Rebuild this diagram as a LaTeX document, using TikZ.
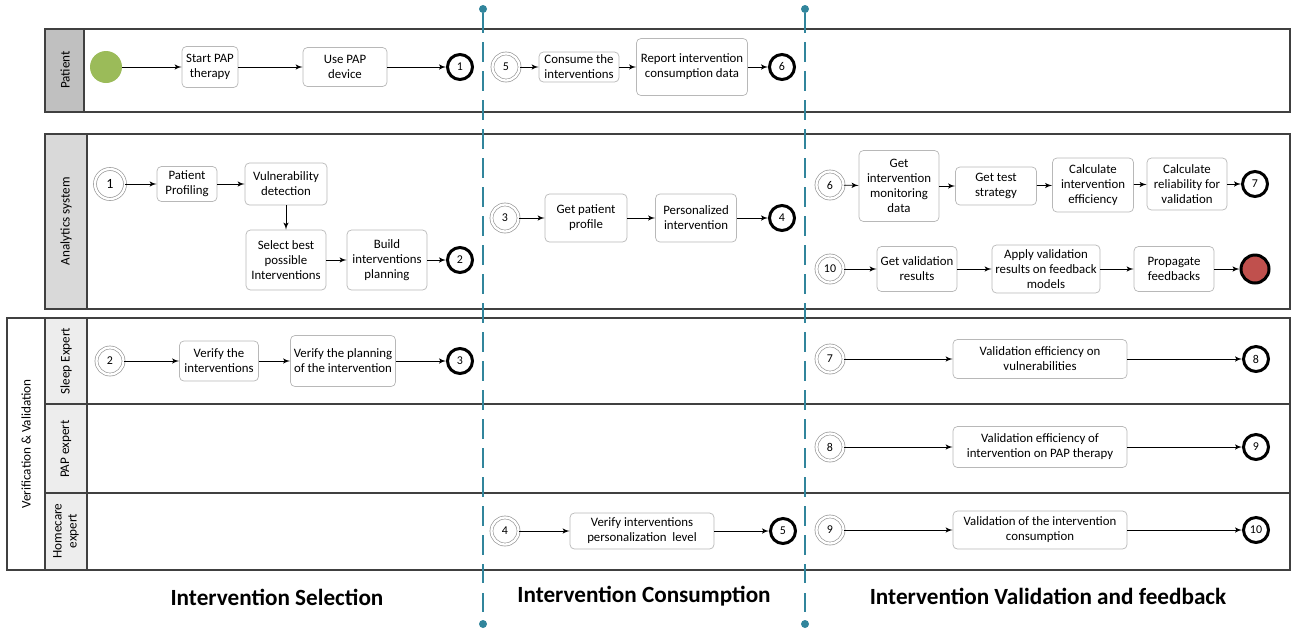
\documentclass[tikz,border=0pt]{standalone}
\usepackage{fontspec}
\setmainfont{Carlito}
\usetikzlibrary{arrows,positioning}
\definecolor{startgreen}{HTML}{9BBB59}
\definecolor{endred}{HTML}{C0504D}
\definecolor{phaseteal}{HTML}{31859C}
\definecolor{patgray}{HTML}{C0C0C0}
\definecolor{anagray}{HTML}{D9D9D9}
\definecolor{lanegray}{HTML}{EDEDED}
\tikzset{task/.style={rectangle,rounded corners=2.5pt,draw=black!28,fill=white,align=center,inner sep=1pt,font=\fontsize{7.3}{8.6}\selectfont},
         box size/.style 2 args={minimum width=#1*0.02cm,minimum height=#2*0.02cm},
         start event/.style={circle,fill=startgreen,draw=none,minimum size=0.64cm,inner sep=0pt},
         catch event/.style={circle,draw=black!40,double=white,double distance=1.3pt,fill=white,minimum size=0.54cm,inner sep=0pt,font=\fontsize{6.8}{8}\selectfont},
         end event/.style={circle,draw=black,line width=1.7pt,fill=white,minimum size=0.5cm,inner sep=0pt,font=\fontsize{6.8}{8}\selectfont},
         pool/.style={draw=black!75,line width=0.7pt},
         lane label/.style={rotate=90,align=center,font=\fontsize{7.5}{8.6}\selectfont},
         phase label/.style={font=\fontsize{13.2}{16}\selectfont\bfseries},
         phase dot/.style={circle,fill=phaseteal,minimum size=0.16cm,inner sep=0pt},
         phase line/.style={phaseteal,line width=1.4pt,dash pattern=on 11pt off 5.5pt},
}
\begin{document}
\begin{tikzpicture}[x=0.02cm,y=-0.02cm,->,>=latex',thin]

% \draw[help lines] (0,0) grid (1294,630);
\useasboundingbox (0,0) rectangle (1294,630);

% pools and lanes
\begin{scope}[-]
\draw[pool] (45,29) rectangle (1290,112);
\filldraw[pool,fill=patgray] (45,29) rectangle (84,112);
\draw[pool] (45,134) rectangle (1290,309);
\filldraw[pool,fill=anagray] (45,134) rectangle (87,309);
\draw[pool] (7,318) rectangle (1290,570);
\filldraw[pool,fill=lanegray] (45,318) rectangle (87,404);
\filldraw[pool,fill=lanegray] (45,404) rectangle (87,493);
\filldraw[pool,fill=lanegray] (45,493) rectangle (87,570);
\draw[pool] (45,318) -- (45,570);
\draw[pool] (87,404) -- (1290,404);
\draw[pool] (87,493) -- (1290,493);
\end{scope}

\node[lane label] (lpat) at (65,70) {Patient};
\node[lane label] (lana) at (66,221) {Analytics system};
\node[lane label] (lvv) at (26,444) {Verification \& Validation};
\node[lane label] (lsle) at (66,361) {Sleep Expert};
\node[lane label] (lpap) at (66,449) {PAP expert};
\node[lane label] (lhom) at (66,531) {Homecare\\expert};

% phases
\node[phase dot] (d1t) at (483,9) {};
\node[phase dot] (d1b) at (483,624) {};
\node[phase dot] (d2t) at (805,9) {};
\node[phase dot] (d2b) at (805,624) {};
\draw[phase line,-] (d1t) -- (d1b);
\draw[phase line,-] (d2t) -- (d2b);

\node[phase label] (ph1) at (277,597) {Intervention Selection};
\node[phase label] (ph2) at (644,596) {Intervention Consumption};
\node[phase label] (ph3) at (1048,596) {Intervention Validation and feedback};

% Patient
\node[start event] (p0) at (106,67) {};
\node[task,box size={56}{41}] (p1) at (210,67) {Start PAP\\therapy};
\node[task,box size={84}{39}] (p2) at (345,67) {Use PAP\\device};
\node[end event] (pe1) at (460,67) {1};
\node[catch event] (pc5) at (506,67) {5};
\node[task,box size={80}{30}] (p3) at (579,67) {Consume the\\interventions};
\node[task,box size={111}{57}] (p4) at (692,67) {Report intervention\\consumption data};
\node[end event] (pe6) at (782,67) {6};

\draw (p0) -- (p1);
\draw (p1) -- (p2);
\draw (p2) -- (pe1);
\draw (pc5) -- (p3);
\draw (p3) -- (p4);
\draw (p4) -- (pe6);

% Analytics system
\node[catch event,minimum size=0.6cm,font=\fontsize{8}{9}\selectfont] (ac1) at (110,184) {1};
\node[task,box size={60}{35}] (a1) at (187,184) {Patient\\Profiling};
\node[task,box size={82}{42}] (a2) at (286,184) {Vulnerability\\detection};
\node[task,box size={80}{60}] (a3) at (286,260) {Select best\\possible\\Interventions};
\node[task,box size={80}{60}] (a4) at (387,260) {Build\\interventions\\planning};
\node[end event] (ae2) at (460,260) {2};

\node[catch event] (ac3) at (505,218) {3};
\node[task,box size={82}{48}] (a5) at (586,218) {Get patient\\profile};
\node[task,box size={81}{48}] (a6) at (696,218) {Personalized\\intervention};
\node[end event] (ae4) at (782,218) {4};

\node[catch event] (ac6) at (830,185) {6};
\node[task,box size={80}{71}] (a7) at (899,186) {Get\\intervention\\monitoring\\data};
\node[task,box size={81}{38}] (a8) at (996,186) {Get test\\strategy};
\node[task,box size={81}{54}] (a9) at (1093,185) {Calculate\\intervention\\efficiency};
\node[task,box size={80}{52}] (a10) at (1187,184) {Calculate\\reliability for\\validation};
\node[end event] (ae7) at (1255,184) {7};

\node[catch event] (ac10) at (830,269) {10};
\node[task,box size={80}{45}] (a11) at (917,269) {Get validation\\results};
\node[task,box size={108}{48}] (a12) at (1046,269) {Apply validation\\results on feedback\\models};
\node[task,box size={80}{45}] (a13) at (1174,269) {Propagate\\feedbacks};
\node[end event,fill=endred,minimum size=0.56cm] (aend) at (1255,269) {};

\draw (ac1) -- (a1);
\draw (a1) -- (a2);
\draw (a2) -- (a3);
\draw (a3) -- (a4);
\draw (a4) -- (ae2);
\draw (ac3) -- (a5);
\draw (a5) -- (a6);
\draw (a6) -- (ae4);
\draw (ac6) -- (a7);
\draw (a7) -- (a8);
\draw (a8) -- (a9);
\draw (a9) -- (a10);
\draw (a10) -- (ae7);
\draw (ac10) -- (a11);
\draw (a11) -- (a12);
\draw (a12) -- (a13);
\draw (a13) -- (aend);

% Verification & Validation
\node[catch event] (sc2) at (110,361) {2};
\node[task,box size={79}{40}] (s1) at (219,361) {Verify the\\interventions};
\node[task,box size={105}{51}] (s2) at (343,361) {Verify the planning\\of the intervention};
\node[end event] (se3) at (460,361) {3};

\node[catch event] (sc7) at (830,359) {7};
\node[task,box size={174}{39}] (s3) at (1040,359) {Validation efficiency on\\vulnerabilities};
\node[end event] (se8) at (1256,359) {8};

\node[catch event] (kc8) at (830,447) {8};
\node[task,box size={174}{41}] (k1) at (1040,447) {Validation efficiency of\\intervention on PAP therapy};
\node[end event] (ke9) at (1256,447) {9};

\node[catch event] (hc4) at (505,531) {4};
\node[task,box size={144}{36}] (h1) at (642,531) {Verify interventions\\personalization\ \ level};
\node[end event] (he5) at (783,531) {5};

\node[catch event] (hc9) at (830,530) {9};
\node[task,box size={174}{38}] (h2) at (1040,530) {Validation of the intervention\\consumption};
\node[end event] (he10) at (1256,530) {10};

\draw (sc2) -- (s1);
\draw (s1) -- (s2);
\draw (s2) -- (se3);
\draw (sc7) -- (s3);
\draw (s3) -- (se8);
\draw (kc8) -- (k1);
\draw (k1) -- (ke9);
\draw (hc4) -- (h1);
\draw (h1) -- (he5);
\draw (hc9) -- (h2);
\draw (h2) -- (he10);

\end{tikzpicture}
\end{document}
